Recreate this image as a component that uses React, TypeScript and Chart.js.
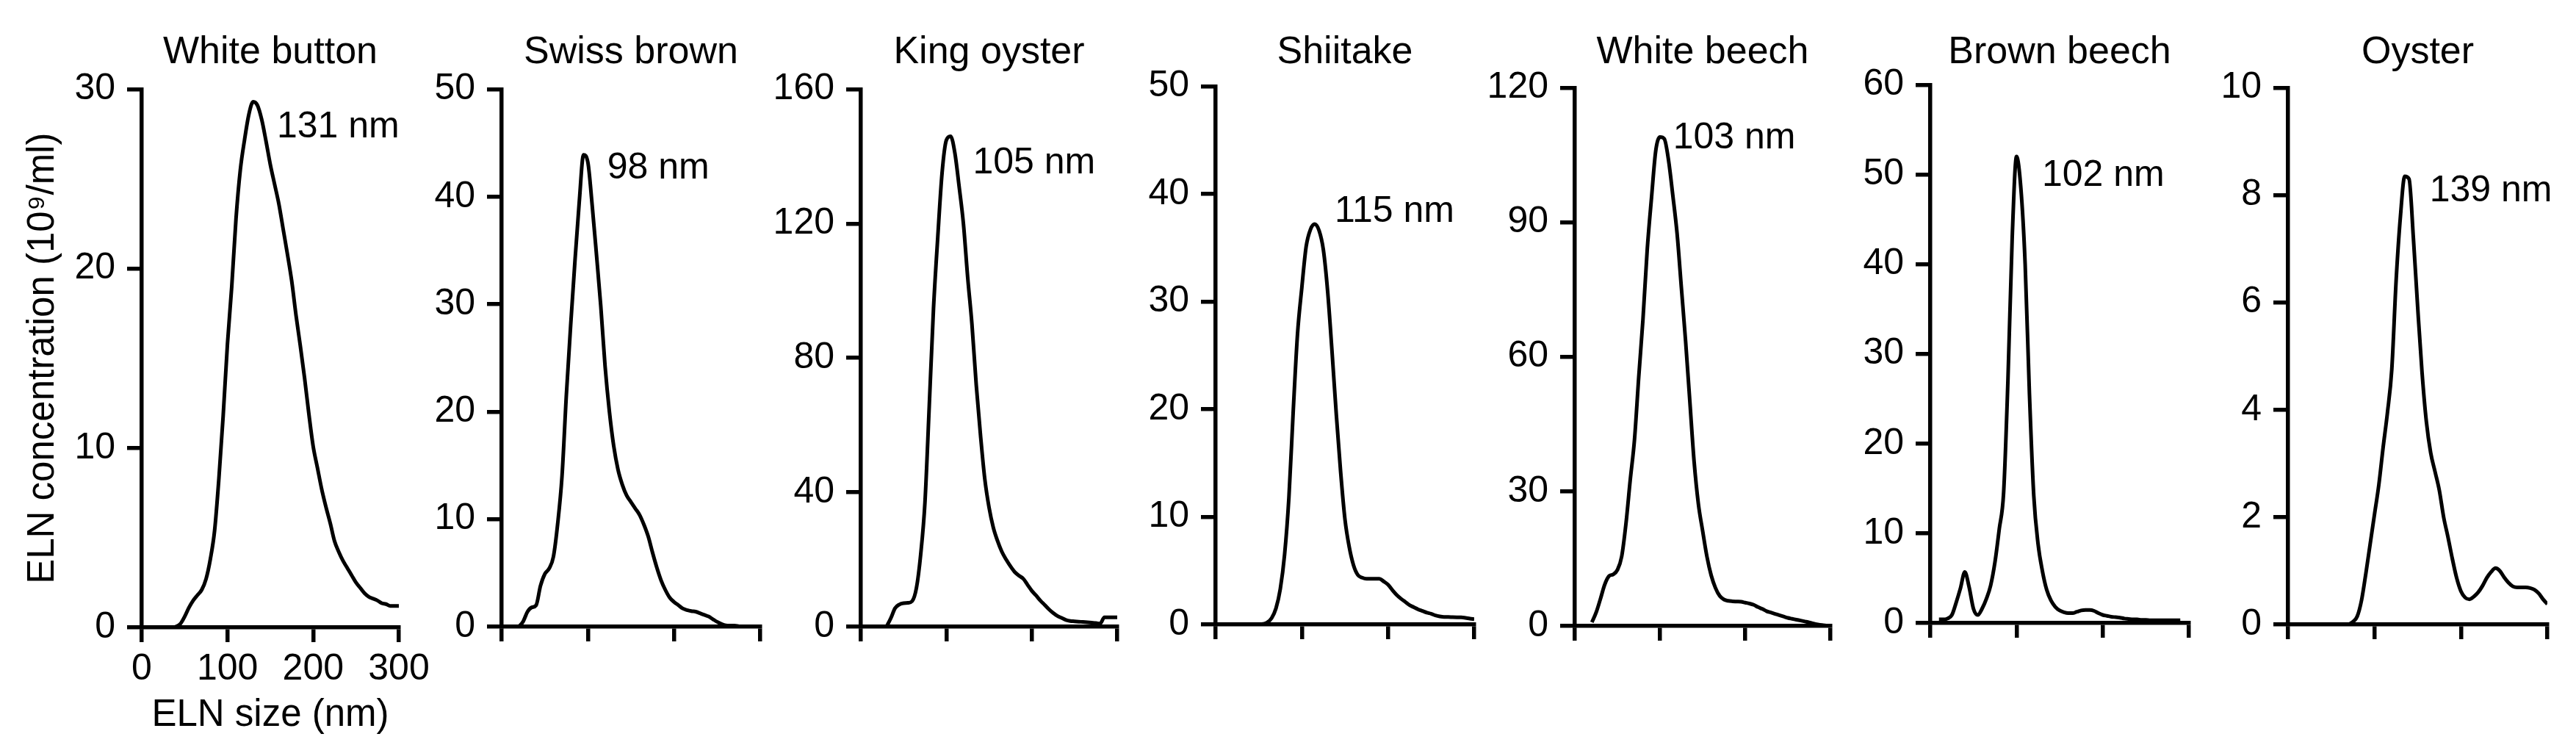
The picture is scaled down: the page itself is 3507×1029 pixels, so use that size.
import React, { useEffect, useRef } from 'react';
import { Chart, registerables } from 'chart.js';

Chart.register(...registerables);

const FONT_FAMILY = '"Liberation Sans", Arial, Helvetica, sans-serif';

// ---------- data ----------
const SIZE_NM = [
  0, 5, 10, 15, 20, 25, 30, 35, 40, 45, 50, 55, 60, 65, 70, 75, 80, 85, 90, 95,
  100, 105, 110, 115, 120, 125, 130, 135, 140, 145, 150, 155, 160, 165, 170, 175, 180, 185, 190, 195,
  200, 205, 210, 215, 220, 225, 230, 235, 240, 245, 250, 255, 260, 265, 270, 275, 280, 285, 290, 295, 300,
];

const WHITE_BUTTON = [
  null, null, null, null, null, null, null, 0, 0.05, 0.2, 0.6, 1.1, 1.5, 1.8, 2.1, 2.7, 3.8, 5.4, 8.3, 11.8,
  15.8, 19.0, 22.8, 25.5, 27.2, 28.6, 29.3, 29.1, 28.3, 27.1, 25.8, 24.7, 23.6, 22.2, 20.8, 19.3, 17.4, 15.7, 13.9, 11.9,
  10.1, 8.9, 7.7, 6.7, 5.8, 4.8, 4.2, 3.7, 3.3, 2.9, 2.5, 2.2, 1.9, 1.7, 1.6, 1.5, 1.35, 1.3, 1.2, 1.2, 1.2,
];

const SWISS_BROWN = [
  null, null, null, null, 0, 0.5, 1.4, 1.8, 2.0, 3.8, 4.9, 5.4, 6.5, 9.6, 14.0, 21.5, 28.0, 34.0, 39.5, 43.9,
  43.2, 39.2, 34.6, 29.8, 24.2, 20.0, 16.8, 14.6, 13.2, 12.2, 11.6, 11.0, 10.4, 9.5, 8.4, 6.9, 5.5, 4.3, 3.4, 2.7,
  2.3, 2.0, 1.7, 1.55, 1.45, 1.4, 1.25, 1.1, 0.95, 0.7, 0.45, 0.25, 0.12, 0.1, 0.1, 0.05, null, null, null, null, null,
];

const KING_OYSTER = [
  null, null, null, null, null, null, 0, 2.5, 5.5, 6.6, 7.0, 7.1, 7.6, 11.5, 21.5, 37, 65.5, 94.7, 116, 135,
  144.8, 146, 141, 131, 120, 104, 90, 72, 57, 44, 35.5, 29.5, 25.5, 22.3, 20, 18, 16.3, 15.2, 14.3, 12.5,
  10.7, 9.3, 7.8, 6.5, 5.2, 4.1, 3.2, 2.6, 2.0, 1.7, 1.6, 1.5, 1.4, 1.3, 1.2, 1.1, 0.9, 2.8, 2.8, 2.8, 2.8,
];

const SHIITAKE = [
  null, null, null, null, null, null, null, null, null, null, 0, 0.05, 0.2, 0.6, 1.5, 3.3, 6.5, 11.8, 19.8, 27.0,
  31.3, 35.1, 36.7, 37.2, 36.6, 34.8, 30.9, 25.4, 19.5, 14.2, 9.8, 7.2, 5.5, 4.6, 4.35, 4.25, 4.25, 4.25, 4.25, 4.0,
  3.7, 3.2, 2.75, 2.4, 2.1, 1.8, 1.6, 1.4, 1.25, 1.1, 1.0, 0.85, 0.75, 0.7, 0.7, 0.68, 0.67, 0.67, 0.62, 0.55, 0.5,
];

const WHITE_BEECH = [
  null, null, null, null, 0.8, 3.0, 6.0, 9.2, 11.1, 11.5, 12.5, 15.5, 22.8, 32.5, 41.5, 55.5, 68.5, 84, 95.5, 106,
  109, 108.6, 103.8, 96, 87.5, 75.5, 63.5, 50, 36.6, 27.2, 21.2, 15.5, 11.3, 8.5, 6.7, 5.9, 5.6, 5.5, 5.45, 5.4,
  5.2, 5.0, 4.7, 4.2, 3.8, 3.3, 3.0, 2.7, 2.4, 2.1, 1.8, 1.6, 1.4, 1.2, 1.0, 0.8, 0.55, 0.35, 0.2, 0.1, 0,
];

const BROWN_BEECH = [
  null, null, 0.4, 0.4, 0.5, 0.9, 2.3, 3.9, 5.7, 4.0, 1.6, 0.9, 1.6, 2.7, 4.2, 6.8, 10.5, 14.5, 27, 43,
  52, 48.5, 40, 25.5, 14.2, 8.8, 5.8, 3.7, 2.5, 1.8, 1.4, 1.2, 1.1, 1.1, 1.25, 1.4, 1.45, 1.45, 1.35, 1.1,
  0.9, 0.8, 0.7, 0.65, 0.6, 0.5, 0.45, 0.4, 0.4, 0.35, 0.35, 0.3, 0.3, 0.3, 0.3, 0.3, 0.3, 0.3, 0.3, null, null,
];

const OYSTER = [
  null, null, null, null, null, null, null, null, null, null, null, null, null, null, 0, 0.05, 0.15, 0.45, 0.95, 1.5,
  2.05, 2.6, 3.3, 3.95, 4.75, 6.4, 7.6, 8.35, 8.3, 7.2, 5.9, 4.7, 3.78, 3.2, 2.85, 2.5, 2.0, 1.63, 1.23, 0.87,
  0.62, 0.5, 0.47, 0.52, 0.6, 0.72, 0.87, 0.98, 1.05, 1.0, 0.88, 0.78, 0.71, 0.69, 0.69, 0.69, 0.68, 0.65, 0.58, 0.47, 0.38,
];

const SERIES = [WHITE_BUTTON, SWISS_BROWN, KING_OYSTER, SHIITAKE, WHITE_BEECH, BROWN_BEECH, OYSTER];

const PANEL_TITLES = ['White button', 'Swiss brown', 'King oyster', 'Shiitake', 'White beech', 'Brown beech', 'Oyster'];
const Y_MAX = [30, 50, 160, 50, 120, 60, 10];
const Y_STEP = [10, 10, 40, 10, 30, 10, 2];
const X_MIN = 0;
const X_MAX = 300;
const X_STEP = 100;

const PEAK_LABELS = ['131 nm', '98 nm', '105 nm', '115 nm', '103 nm', '102 nm', '139 nm'];
const PEAK_LABEL_X = [157.7, 122.5, 131, 138, 115.2, 129.5, 163.8];
const PEAK_LABEL_Y = [27.3, 41.7, 134.9, 37.4, 106.4, 48.7, 7.88];

const Y_TITLE = 'ELN concentration (10\u2079/ml)';
const X_TITLE = 'ELN size (nm)';

// ---------- layout ----------
const W = 3507;
const H = 1029;
const AXIS_LEFT = [193, 683, 1172, 1655, 2144, 2628, 3115];
const AXIS_RIGHT = [543, 1035, 1521, 2007, 2492, 2980, 3468];
const AXIS_TOP = [121, 121, 121, 117, 119, 115, 119];
const AXIS_BOTTOM = [854, 853, 853, 850, 852, 848, 850];
const Y_SCALE_W = 170;
const TICK_LEN = 20;
const LINE_W = 5.5;
const CURVE_W = 5;
const FONT_SIZE = 50;
const TITLE_SIZE = 52;

const peakLabelPlugin = {
  id: 'peakLabel',
  afterDatasetsDraw(chart: any, _args: any, opts: any) {
    const { ctx, scales } = chart;
    ctx.save();
    ctx.font = `${FONT_SIZE}px ${FONT_FAMILY}`;
    ctx.fillStyle = '#000';
    ctx.textAlign = 'left';
    ctx.textBaseline = 'alphabetic';
    ctx.fillText(opts.text, scales.x.getPixelForValue(opts.x), scales.y.getPixelForValue(opts.y));
    ctx.restore();
  },
};

function makeConfig(i: number): any {
  const first = i === 0;
  const data = SIZE_NM.map((x, k) => ({ x, y: SERIES[i][k] }));
  const titleLine = Math.round(TITLE_SIZE * 1.2);
  return {
    type: 'line',
    data: {
      datasets: [
        {
          data,
          borderColor: '#000',
          borderWidth: CURVE_W,
          pointRadius: 0,
          fill: false,
          spanGaps: false,
          cubicInterpolationMode: 'monotone',
          borderJoinStyle: 'round',
        },
      ],
    },
    plugins: [peakLabelPlugin],
    options: {
      responsive: false,
      animation: false,
      devicePixelRatio: 1,
      events: [],
      layout: {
        autoPadding: false,
        padding: { left: AXIS_LEFT[i] - Y_SCALE_W, right: W - AXIS_RIGHT[i], top: 0, bottom: 0 },
      },
      plugins: {
        legend: { display: false },
        tooltip: { enabled: false },
        title: {
          display: true,
          text: PANEL_TITLES[i],
          color: '#000',
          fullSize: false,
          font: { family: FONT_FAMILY, size: TITLE_SIZE, weight: 'normal', lineHeight: 1.2 },
          padding: { top: 40, bottom: AXIS_TOP[i] - 40 - titleLine },
        },
        peakLabel: { text: PEAK_LABELS[i], x: PEAK_LABEL_X[i], y: PEAK_LABEL_Y[i] },
      },
      scales: {
        x: {
          type: 'linear',
          min: X_MIN,
          max: X_MAX,
          afterFit: (s: any) => {
            s.height = H - AXIS_BOTTOM[i];
          },
          border: { display: true, color: '#000', width: LINE_W },
          grid: {
            display: true,
            drawOnChartArea: false,
            drawTicks: true,
            tickLength: TICK_LEN,
            lineWidth: LINE_W,
            color: '#000',
          },
          ticks: {
            display: first,
            stepSize: X_STEP,
            color: '#000',
            padding: 7,
            maxRotation: 0,
            font: { family: FONT_FAMILY, size: FONT_SIZE },
          },
          title: {
            display: first,
            text: X_TITLE,
            color: '#000',
            font: { family: FONT_FAMILY, size: 51, lineHeight: 1.2 },
            padding: { top: 0, bottom: 24 },
          },
        },
        y: {
          type: 'linear',
          min: 0,
          max: Y_MAX[i],
          afterFit: (s: any) => {
            s.width = Y_SCALE_W;
          },
          border: { display: true, color: '#000', width: LINE_W },
          grid: {
            display: true,
            drawOnChartArea: false,
            drawTicks: true,
            tickLength: TICK_LEN,
            lineWidth: LINE_W,
            color: '#000',
          },
          ticks: {
            stepSize: Y_STEP[i],
            color: '#000',
            padding: 16,
            font: { family: FONT_FAMILY, size: FONT_SIZE },
          },
          title: {
            display: first,
            text: Y_TITLE,
            color: '#000',
            font: { family: FONT_FAMILY, size: 51, lineHeight: 1.2 },
            padding: { top: 5, bottom: 0 },
          },
        },
      },
    },
  };
}

export default function App() {
  const refs = useRef<(HTMLCanvasElement | null)[]>([]);

  useEffect(() => {
    const charts = PANEL_TITLES.map((_, i) => new Chart(refs.current[i] as HTMLCanvasElement, makeConfig(i)));
    return () => {
      charts.forEach((c) => c.destroy());
    };
  }, []);

  return (
    <div style={{ position: 'fixed', left: 0, top: 0, width: W, height: H, background: '#fff' }}>
      {PANEL_TITLES.map((t, i) => (
        <canvas
          key={t}
          ref={(el) => {
            refs.current[i] = el;
          }}
          width={W}
          height={H}
          style={{ position: 'absolute', left: 0, top: 0, width: W, height: H }}
        />
      ))}
    </div>
  );
}
